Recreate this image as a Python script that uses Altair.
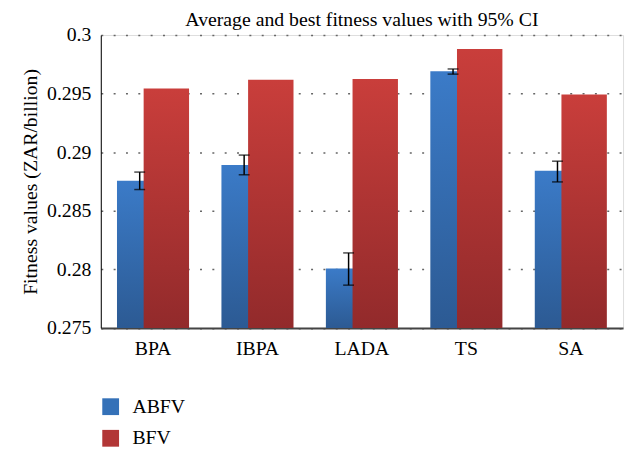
import altair as alt
import pandas as pd

# ---- data ----
categories = ["BPA", "IBPA", "LADA", "TS", "SA"]
abfv = [0.28757, 0.28891, 0.28008, 0.29691, 0.28842]
abfv_lo = [0.28681, 0.28807, 0.27865, 0.29666, 0.28746]
abfv_hi = [0.28830, 0.28975, 0.28140, 0.29710, 0.28923]
bfv = [0.29543, 0.29617, 0.29624, 0.29880, 0.29493]
series_names = ["ABFV", "BFV"]
y_ticks = [0.275, 0.28, 0.285, 0.29, 0.295, 0.3]
y_min, y_max = 0.275, 0.3

FONT = "Liberation Serif"

df = pd.DataFrame({
    "cat": categories,
    "abfv": abfv,
    "lo": abfv_lo,
    "hi": abfv_hi,
    "bfv": bfv,
})
legend_df = pd.DataFrame({"series": series_names})

blue_grad = alt.LinearGradient(
    gradient="linear",
    stops=[alt.GradientStop(color="#3b7bc8", offset=0),
           alt.GradientStop(color="#2c5a93", offset=1)],
    x1=1, x2=1, y1=0, y2=1,
)
red_grad = alt.LinearGradient(
    gradient="linear",
    stops=[alt.GradientStop(color="#c93e3b", offset=0),
           alt.GradientStop(color="#922a2b", offset=1)],
    x1=1, x2=1, y1=0, y2=1,
)

x_enc = alt.X(
    "cat:N", sort=categories,
    scale=alt.Scale(paddingInner=0, paddingOuter=0),
    axis=alt.Axis(title=None, labelAngle=0, tickSize=0, ticks=False,
                  labelPadding=11, labelFontSize=20, labelFont=FONT,
                  labelColor="black", domainColor="#444", domainWidth=2,
                  grid=False),
)
y_scale = alt.Scale(domain=[y_min, y_max], zero=False, nice=False)
y_axis = alt.Axis(
    title="Fitness values (ZAR/billion)", values=y_ticks, format="~g",
    tickSize=0, ticks=False, labelPadding=10, labelFontSize=20,
    labelFont=FONT, labelColor="black", titleFont=FONT, titleFontSize=20,
    titleFontWeight="normal", titleColor="black", titlePadding=6,
    domainColor="black", domainWidth=1,
    grid=True, gridColor="#666", gridWidth=1.5, gridDash=[2, 10.5],
)

base = alt.Chart(df)
OFF = 13.5
BW = 46

blue = base.mark_bar(width=BW, xOffset=-OFF, color=blue_grad).encode(
    x=x_enc,
    y=alt.Y("abfv:Q", scale=y_scale, axis=y_axis),
    y2=alt.datum(y_min),
)
red = base.mark_bar(width=BW, xOffset=OFF, color=red_grad).encode(
    x=alt.X("cat:N", sort=categories),
    y=alt.Y("bfv:Q"),
    y2=alt.datum(y_min),
)
err = base.mark_rule(xOffset=-OFF, color="black", strokeWidth=1.5).encode(
    x=alt.X("cat:N", sort=categories),
    y=alt.Y("lo:Q"),
    y2="hi:Q",
)
cap_lo = base.mark_tick(xOffset=-OFF, color="black", size=11, thickness=1.5,
                        orient="horizontal").encode(
    x=alt.X("cat:N", sort=categories),
    y=alt.Y("lo:Q"),
)
cap_hi = base.mark_tick(xOffset=-OFF, color="black", size=11, thickness=1.5,
                        orient="horizontal").encode(
    x=alt.X("cat:N", sort=categories),
    y=alt.Y("hi:Q"),
)
legend_layer = alt.Chart(legend_df).mark_square(opacity=0).encode(
    color=alt.Color(
        "series:N",
        scale=alt.Scale(domain=series_names, range=["#3471b8", "#b23636"]),
        legend=alt.Legend(
            title=None, orient="none", legendX=0, legendY=366.5,
            direction="vertical", symbolType="square", symbolSize=289,
            symbolOpacity=1, symbolStrokeWidth=0, labelFont=FONT,
            labelFontSize=20, labelColor="black", labelOffset=12,
            rowPadding=12, padding=0,
        ),
    ),
)

chart = alt.layer(blue, red, err, cap_lo, cap_hi, legend_layer).properties(
    width=529,
    height=296.7,
    padding={"left": 94, "top": 24.5, "right": 3, "bottom": 120},
    autosize="none",
    title=alt.TitleParams(
        "Average and best fitness values with 95% CI",
        font=FONT, fontSize=20, fontWeight="normal", color="black",
        anchor="middle", offset=-5,
    ),
).configure_view(
    stroke="#222", strokeWidth=1.5,
).configure(
    font=FONT,
)

chart.save("out.html", embed_options={"renderer": "svg", "actions": False})
